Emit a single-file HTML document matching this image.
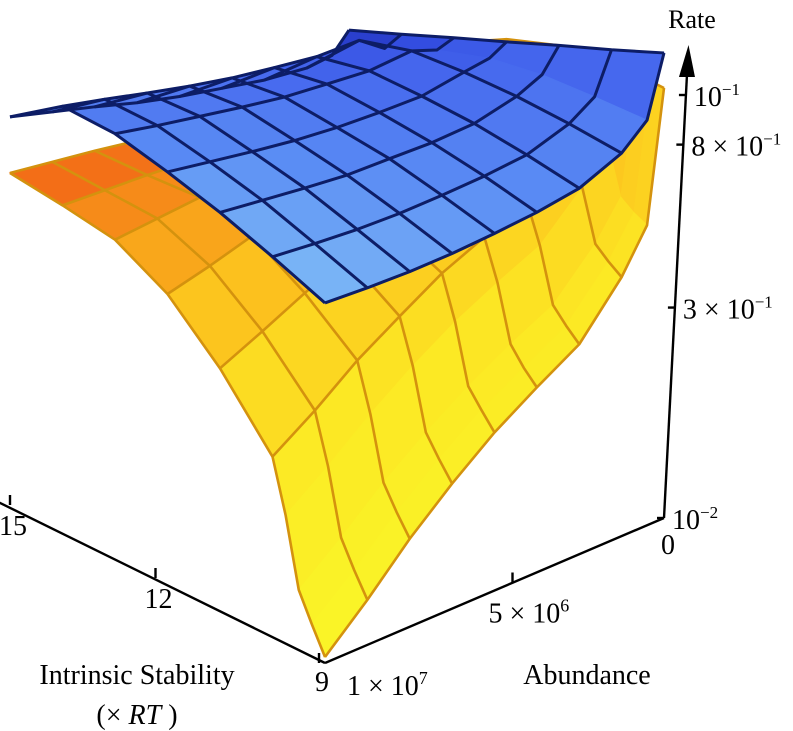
<!DOCTYPE html>
<html><head><meta charset="utf-8">
<style>
html,body{margin:0;padding:0;background:#fff;}
svg{display:block;}
text{font-family:"Liberation Serif","Times New Roman","DejaVu Serif",serif;}
</style></head>
<body>
<svg id="chart" width="793" height="731" viewBox="0 0 793 731" xmlns="http://www.w3.org/2000/svg">
<g id="orange"></g>
<g id="blue"></g>
<g id="axes"></g>
</svg>
<script>
// ---- data ----
const blueStability = [9, 10, 11, 12, 13, 14, 15];
const orangeStability = [9, 9.25, 9.5, 9.75, 10, 11, 12, 13, 14, 15];
const abundance = [1e7, 8.75e6, 7.5e6, 6.25e6, 5e6, 3.75e6, 2.5e6, 1.25e6, 5e5, 0];
// blueRate[abundance index][stability index]
const blueRate = [
 [.750,.825,.896,.954,1.004,1.009,.857],
 [.739,.806,.872,.921,.962,.962,.806],
 [.732,.791,.849,.889,.925,.913,.757],
 [.732,.783,.829,.861,.889,.868,.706],
 [.739,.783,.822,.841,.857,.829,.664],
 [.750,.787,.814,.829,.837,.799,.630],
 [.772,.799,.818,.822,.818,.772,.597],
 [.837,.849,.853,.845,.825,.765,.577],
 [.925,.913,.896,.857,.787,.696,.583],
 [1.187,1.082,.987,.893,.806,.721,.643]
];
const orangeRate = [
 [.0127,.0283,.0518,.1386,.2333,.3781,.5141,.6031,.6298,.6503],
 [.0383,.0599,.0900,.1921,.2944,.4294,.5451,.6131,.6197,.6265],
 [.0825,.1088,.1434,.2607,.3728,.4871,.5834,.6231,.6098,.6031],
 [.1340,.1634,.1996,.3300,.4435,.5420,.6131,.6298,.5965,.5770],
 [.1903,.2211,.2565,.3966,.5171,.5868,.6331,.6298,.5770,.5451],
 [.2436,.2717,.3107,.4550,.5737,.6298,.6537,.6265,.5641,.5203],
 [.2990,.3275,.3626,.5110,.6331,.6641,.6675,.6298,.5482,.4990],
 [.4239,.4492,.4811,.6400,.7610,.7573,.7242,.6469,.5482,.4840],
 [.5451,.5641,.5932,.7610,.8844,.8409,.7797,.6815,.5641,.4900],
 [1.030,1.030,1.030,1.030,1.074,.987,.904,.787,.640,.545]
];
const stabilityTicks = [9, 12, 15];
const stabilityTickLabels = ["9", "12", "15"];
const abundanceTicks = [1e7, 5e6, 0];
const rateTicks = [0.01, 0.3, 0.8, 1.0];
const rateTickMant = ["", "3", "8", ""];
const rateTickExp = ["−2", "−1", "−1", "−1"];

// ---- axis functions ----
const NS = "http://www.w3.org/2000/svg";
function U(s){ return (s - 9) / 6; }
function V(a){ return 1 - a / 1e7; }
function baseX(s,a){ return 325 - 315*U(s) + 339*V(a); }
function baseY(s,a){ return 663 - 158*U(s) - 145*V(a); }
function zH(r){ return 470*(Math.sqrt(r) - 0.1); }
function P(s,a,r){ return [baseX(s,a), baseY(s,a) - zH(r)]; }
function mk(tag, attrs, parent){ const e=document.createElementNS(NS,tag); for(const k in attrs) e.setAttribute(k,attrs[k]); parent.appendChild(e); return e; }
function lerpC(stops, t){
  t=Math.max(0,Math.min(1,t));
  for(let i=1;i<stops.length;i++){ if(t<=stops[i][0]){ const a=stops[i-1],b=stops[i]; const f=(t-a[0])/(b[0]-a[0]||1);
    return "rgb("+[0,1,2].map(k=>Math.round(a[1][k]+(b[1][k]-a[1][k])*f)).join(",")+")"; } }
  return "rgb("+stops[stops.length-1][1].join(",")+")";
}
const orangeStops=[[0,[249,247,40]],[0.35,[252,232,36]],[0.6,[252,196,30]],[0.8,[248,150,26]],[1,[240,92,22]]];
const blueStops=[[0,[128,188,246]],[0.35,[90,140,244]],[0.65,[70,104,238]],[0.85,[48,72,222]],[1,[30,44,170]]];

function drawSurface(g, stab, rates, stops, colorFn, lineColor, skipU, skipV, name, lw){
  const quads=[];
  for(let j=0;j<abundance.length-1;j++) for(let i=0;i<stab.length-1;i++){
    const pts=[P(stab[i],abundance[j],rates[j][i]),P(stab[i+1],abundance[j],rates[j][i+1]),P(stab[i+1],abundance[j+1],rates[j+1][i+1]),P(stab[i],abundance[j+1],rates[j+1][i])];
    const uc=(U(stab[i])+U(stab[i+1]))/2, vc=(V(abundance[j])+V(abundance[j+1]))/2;
    const rc=(rates[j][i]+rates[j][i+1]+rates[j+1][i]+rates[j+1][i+1])/4;
    quads.push({pts,d:uc+vc,c:lerpC(stops,colorFn(uc,vc,rc))});
  }
  quads.sort((a,b)=>b.d-a.d);
  quads.forEach(q=>{
    const e=mk("polygon",{points:q.pts.map(p=>p.join(",")).join(" "),fill:q.c,stroke:q.c,"stroke-width":"1"},g);
    
    
  });
  for(let i=0;i<stab.length;i++){ if(skipU.includes(i)) continue;
    const d=abundance.map((a,j)=>P(stab[i],a,rates[j][i]).join(",")).join(" ");
    const e=mk("polyline",{points:d,fill:"none",stroke:lineColor,"stroke-width":lw,"stroke-linejoin":"round"},g);
    
    
  }
  for(let j=0;j<abundance.length;j++){ if(skipV.includes(j)) continue;
    const d=stab.map((s,i)=>P(s,abundance[j],rates[j][i]).join(",")).join(" ");
    const e=mk("polyline",{points:d,fill:"none",stroke:lineColor,"stroke-width":lw,"stroke-linejoin":"round"},g);
    
    
  }
}
drawSurface(document.getElementById("orange"), orangeStability, orangeRate, orangeStops,
  (u,v,r)=>0.45*zH(r)/340+0.55*u, "#d4920e", [1,2,3], [8], "orange-surface", "2.6");
drawSurface(document.getElementById("blue"), blueStability, blueRate, blueStops,
  (u,v,r)=>(u+v)/2*0.95+Math.max(0,zH(r)-400)/200, "#0d1d66", [], [8], "blue-surface", "3");

// ---- axes ----
const ax=document.getElementById("axes");
const FF="'Liberation Serif', 'Times New Roman', 'DejaVu Serif', serif";
function line(x1,y1,x2,y2,name){ const e=mk("line",{x1,y1,x2,y2,stroke:"#000","stroke-width":"2.4"},ax);   return e;}
function text(x,y,str,size,anchor,name){ const e=mk("text",{x,y,"font-size":size,"text-anchor":anchor||"start","font-family":FF},ax); e.textContent=str;   return e;}
// stability axis
line(baseX(9,1e7),baseY(9,1e7),baseX(15.25,1e7)-6,baseY(15.25,1e7),"stability-axis-line");
stabilityTicks.forEach((s,k)=>{
  const x=baseX(s,1e7)-(k===0?6:0)-(k===1?12:0), y=baseY(s,1e7)+(k===1?-6:0);
  line(x,y,x,y-10,"stability-tick");
  text(x+3,y+(k===0?28:30),stabilityTickLabels[k],28,"middle","stability-tick-label");
});
// abundance axis
line(baseX(9,1e7),baseY(9,1e7),baseX(9,0),baseY(9,0),"abundance-axis-line");
abundanceTicks.forEach((a,k)=>{
  const x=baseX(9,a)+(k===1?18:0), y=baseY(9,a)-(k===1?8:0);
  if(k===1) line(x,y,x,y-10,"abundance-tick");
  const t=mk("text",{x:k===0?x+22:(k===1?x-24:x+4),y:k===0?y+32:(k===1?y+40:y+36),"font-size":28,"text-anchor":k===2?"middle":"start","font-family":FF},ax);
   
  if(k===2){ t.textContent="0"; }
  else { t.textContent=(k===0?"1":"5")+" × 10"; const sp=mk("tspan",{dy:-11,"font-size":18},t); sp.textContent=(k===0?"7":"6"); }
});
// rate axis
const ox=baseX(9,0), oy=baseY(9,0);
function rx(y){ return ox+(oy-y)*24/463; }
line(ox,oy,rx(62),62,"rate-axis-line");
const arr=mk("polygon",{points:[[rx(45),45],[rx(75)-8,77],[rx(75)+8,77]].map(p=>p.join(",")).join(" "),fill:"#000"},ax);
 
rateTicks.forEach((r,k)=>{
  const y=oy-zH(r), x=rx(y);
  line(x-7,y,x,y,"rate-tick");
  const t=mk("text",{x:x+8,y:y+11,"font-size":28,"font-family":FF},ax);
   
  t.textContent=(rateTickMant[k]?rateTickMant[k]+" × ":"")+"10";
  const sp=mk("tspan",{dy:-11,"font-size":17},t); sp.textContent=rateTickExp[k];
});
text(692,28,"Rate",26,"middle","rate-axis-title");
text(137,684,"Intrinsic Stability",28,"middle","stability-axis-title");
const tt=mk("text",{x:137,y:724,"font-size":28,"text-anchor":"middle","font-family":FF},ax);
 
tt.textContent="(× ";
const it=mk("tspan",{"font-style":"italic"},tt); it.textContent="RT";
const cl=mk("tspan",{},tt); cl.textContent=" )";
text(587,684,"Abundance",28,"middle","abundance-axis-title");
</script>
</body></html>
